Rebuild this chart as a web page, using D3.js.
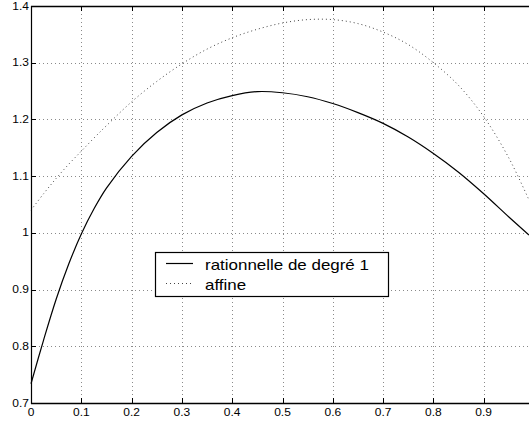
<!DOCTYPE html>
<html>
<head>
<meta charset="utf-8">
<script src="https://cdn.jsdelivr.net/npm/d3@7"></script>
<style>
  html, body { margin: 0; padding: 0; background: #fff; overflow: hidden; }
  svg { display: block; font-family: "Liberation Sans", Arial, Helvetica, sans-serif; }
</style>
</head>
<body>
<svg id="chart" width="529" height="423"></svg>
<script>
// ---- data ----
const xValues = [0, 0.025, 0.05, 0.075, 0.1, 0.125, 0.15, 0.2, 0.25, 0.3, 0.35, 0.4, 0.45, 0.5, 0.55, 0.6, 0.65, 0.7, 0.75, 0.8, 0.85, 0.9, 0.95, 0.99];
const rationnelle = [0.734, 0.811, 0.883, 0.945, 0.998, 1.042, 1.079, 1.135, 1.177, 1.208, 1.229, 1.242, 1.249, 1.247, 1.240, 1.228, 1.212, 1.193, 1.169, 1.140, 1.107, 1.069, 1.028, 0.996];
const affine = [1.040, 1.069, 1.096, 1.121, 1.144, 1.167, 1.189, 1.231, 1.267, 1.298, 1.324, 1.344, 1.359, 1.370, 1.376, 1.376, 1.369, 1.354, 1.332, 1.300, 1.260, 1.205, 1.132, 1.058];
const xTicks = [0, 0.1, 0.2, 0.3, 0.4, 0.5, 0.6, 0.7, 0.8, 0.9];
const xTickLabels = ["0", "0.1", "0.2", "0.3", "0.4", "0.5", "0.6", "0.7", "0.8", "0.9"];
const yTicks = [0.7, 0.8, 0.9, 1.0, 1.1, 1.2, 1.3, 1.4];
const yTickLabels = ["0.7", "0.8", "0.9", "1", "1.1", "1.2", "1.3", "1.4"];
const seriesNames = ["rationnelle de degré 1", "affine"];

// ---- layout ----
const svg = d3.select("#chart");
const mLeft = 31, mTop = 6, mBottom = 403, mRight = 534;
const x = d3.scaleLinear().domain([0, 1]).range([mLeft, mRight]);
const y = d3.scaleLinear().domain([0.7, 1.4]).range([mBottom, mTop]);
const sx = 1.2; // horizontal text stretch as in reference

// grid
const grid = svg.append("g").attr("stroke", "#8a8a8a").attr("stroke-width", 1).attr("stroke-dasharray", "1,3").attr("fill", "none");
xTicks.slice(1).forEach(t => {
  const px = Math.round(x(t)) + 0.5;
  grid.append("line").attr("x1", px).attr("x2", px).attr("y1", mTop).attr("y2", mBottom);
});
yTicks.slice(1, -1).forEach(t => {
  const py = Math.round(y(t)) + 0.5;
  grid.append("line").attr("x1", mLeft).attr("x2", 529).attr("y1", py).attr("y2", py);
});

// curves
const line = d3.line().x((d, i) => x(xValues[i])).y(d => y(d)).curve(d3.curveCatmullRom.alpha(0.5));
svg.append("path").datum(affine).attr("d", line).attr("fill", "none")
  .attr("stroke", "#444").attr("stroke-width", 1).attr("stroke-dasharray", "1,3");
svg.append("path").datum(rationnelle).attr("d", line).attr("fill", "none")
  .attr("stroke", "#000").attr("stroke-width", 1.2);

// axes box (left, top, bottom)
const axis = svg.append("g").attr("stroke", "#000").attr("fill", "none");
axis.append("line").attr("x1", mLeft + 0.5).attr("x2", mLeft + 0.5).attr("y1", mTop).attr("y2", mBottom + 1).attr("stroke-width", 1.2);
axis.append("line").attr("x1", mLeft).attr("x2", 529).attr("y1", mTop + 0.5).attr("y2", mTop + 0.5).attr("stroke-width", 1.5);
axis.append("line").attr("x1", mLeft).attr("x2", 529).attr("y1", mBottom + 0.5).attr("y2", mBottom + 0.5).attr("stroke-width", 1.5);

// ticks (inward)
const tl = 5;
xTicks.forEach(t => {
  const px = Math.round(x(t)) + 0.5;
  axis.append("line").attr("x1", px).attr("x2", px).attr("y1", mBottom).attr("y2", mBottom - tl);
  axis.append("line").attr("x1", px).attr("x2", px).attr("y1", mTop).attr("y2", mTop + tl);
});
yTicks.forEach(t => {
  const py = Math.round(y(t)) + 0.5;
  axis.append("line").attr("x1", mLeft).attr("x2", mLeft + tl).attr("y1", py).attr("y2", py);
});

// tick labels
xTicks.forEach((t, i) => {
  svg.append("g").attr("transform", `translate(${x(t)},${mBottom + 13}) scale(${sx},1)`)
    .append("text").attr("text-anchor", "middle").attr("font-size", 10).attr("fill", "#000")
    .text(xTickLabels[i]);
});
yTicks.forEach((t, i) => {
  svg.append("g").attr("transform", `translate(29,${y(t) + 3.5}) scale(${sx},1)`)
    .append("text").attr("text-anchor", "end").attr("font-size", 10).attr("fill", "#000")
    .text(yTickLabels[i]);
});

// legend
const lg = svg.append("g");
lg.append("rect").attr("x", 155.5).attr("y", 252.5).attr("width", 233).attr("height", 44)
  .attr("fill", "#fff").attr("stroke", "#000").attr("stroke-width", 1.2);
const rows = [263.5, 283.5];
lg.append("line").attr("x1", 166).attr("x2", 193).attr("y1", rows[0]).attr("y2", rows[0])
  .attr("stroke", "#000").attr("stroke-width", 1.2);
lg.append("line").attr("x1", 166).attr("x2", 193).attr("y1", rows[1]).attr("y2", rows[1])
  .attr("stroke", "#444").attr("stroke-width", 1).attr("stroke-dasharray", "1,3");
seriesNames.forEach((name, i) => {
  lg.append("g").attr("transform", `translate(205,${rows[i] + 6}) scale(1.13,1)`)
    .append("text").attr("font-size", 15).attr("fill", "#000").text(name);
});
</script>
</body>
</html>
